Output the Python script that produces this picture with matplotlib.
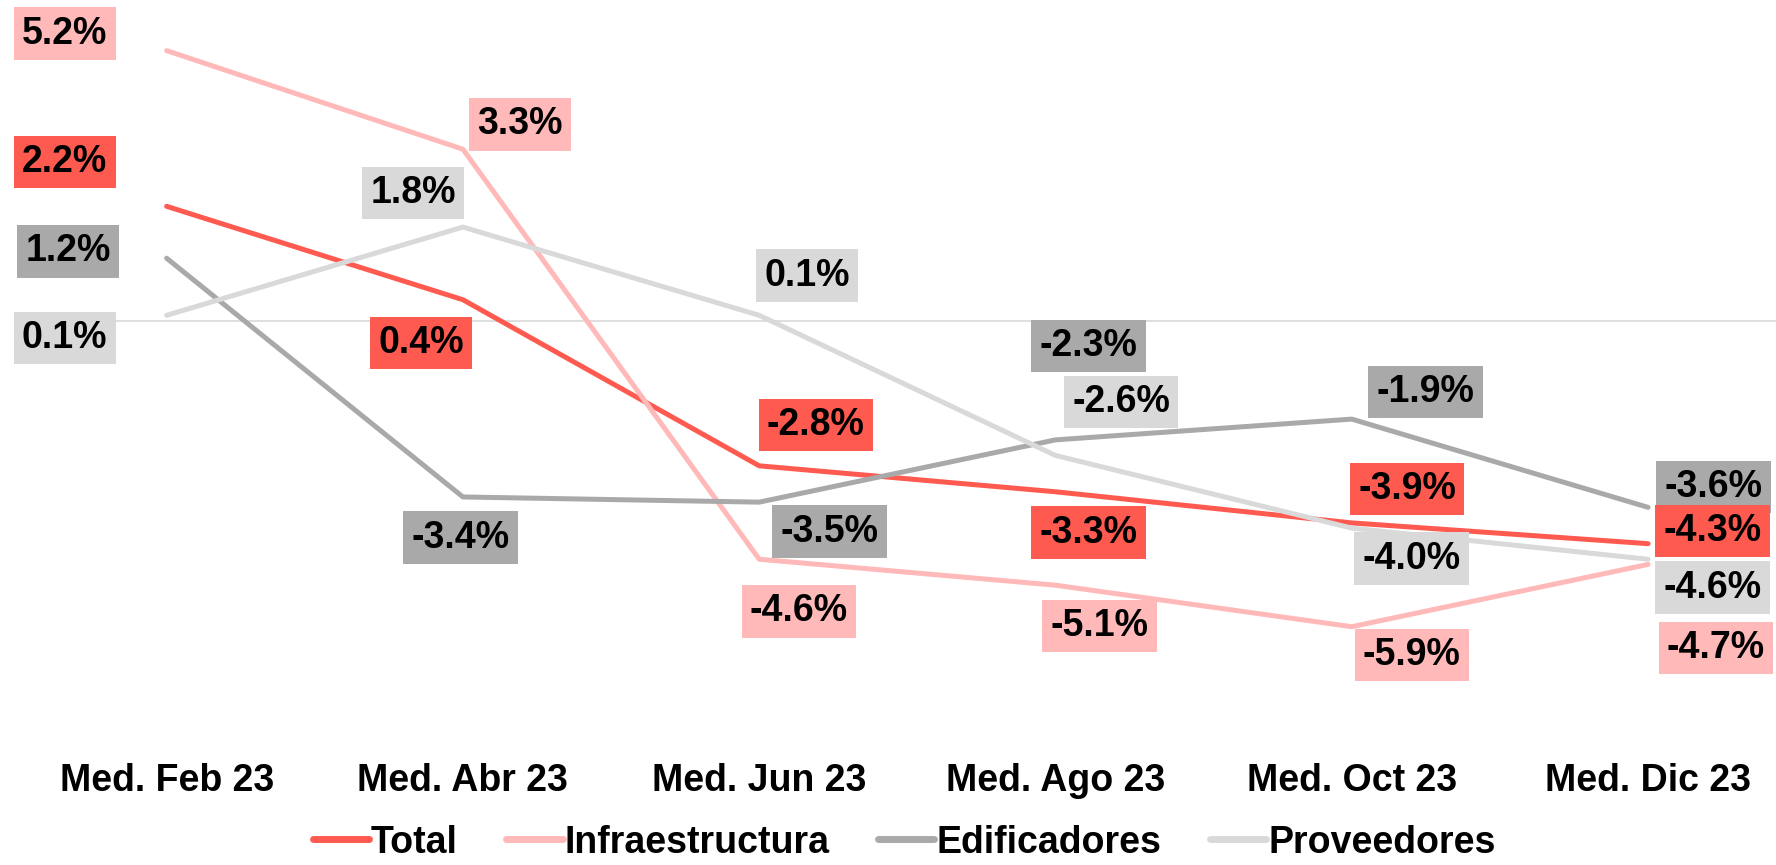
import matplotlib
matplotlib.use("Agg")
import matplotlib.pyplot as plt

categories = ["Med. Feb 23", "Med. Abr 23", "Med. Jun 23", "Med. Ago 23", "Med. Oct 23", "Med. Dic 23"]
total = [2.2, 0.4, -2.8, -3.3, -3.9, -4.3]
infraestructura = [5.2, 3.3, -4.6, -5.1, -5.9, -4.7]
edificadores = [1.2, -3.4, -3.5, -2.3, -1.9, -3.6]
proveedores = [0.1, 1.8, 0.1, -2.6, -4.0, -4.6]

series_names = ["Total", "Infraestructura", "Edificadores", "Proveedores"]
series_values = [total, infraestructura, edificadores, proveedores]
colors = ["#FF5A50", "#FFB9B9", "#A9A9A9", "#D9D9D9"]

# label offsets (pixels, at 1568-wide preview scale), x right, y down
offsets = [
    [(-90, -39), (-37, 38), (50, -36), (29, 36), (49, -30), (57, -11)],
    [(-90, -15), (50, -22), (35, 46), (39, 36), (53, 25), (60, 74)],
    [(-87, -6), (-2, 36), (62, 26), (29, -83), (65, -24), (58, -18)],
    [(-90, 20), (-44, -30), (42, -35), (58, -47), (53, 27), (57, 25)],
]
S = 1776 / 1568

plt.rcParams['font.family'] = ['Liberation Sans', 'DejaVu Sans']
W, H = 1776, 865
fig = plt.figure(figsize=(W / 100, H / 100), dpi=100)
left_px = 18.5
bottom_px = 745
ax = fig.add_axes([left_px / W, (H - bottom_px) / H, (W - left_px) / W, bottom_px / H])

spacing = 296.4
unit = 51.9
zero_px = 320.5
ax.set_xlim(-0.5, 5 + (W - 1648) / spacing)
ax.set_ylim(-(bottom_px - zero_px) / unit, zero_px / unit)

x = list(range(len(categories)))
ax.axhline(0, color="#D9D9D9", lw=1.2, zorder=1)

lines = []
for name, vals, c in zip(series_names, series_values, colors):
    ln, = ax.plot(x, vals, color=c, lw=3.6, solid_capstyle='round', solid_joinstyle='round', label=name, zorder=2)
    lines.append(ln)

label_order = [3, 2, 1, 0]
for si in label_order:
    vals = series_values[si]
    for i, v in enumerate(vals):
        dx, dy = offsets[si][i]
        ax.annotate(f"{v:.1f}%", (i, v), xytext=(dx * S, -dy * S), textcoords='offset pixels',
                    ha='center', va='center', fontsize=27, fontweight='bold', color='black',
                    bbox=dict(boxstyle='square,pad=0.22', fc=colors[si], ec='none'), zorder=5 + (3 - si))

ax.set_xticks(x)
ax.set_xticklabels(categories, fontsize=27, fontweight='bold')
ax.tick_params(axis='x', length=0, pad=13)
ax.set_yticks([])
for sp in ax.spines.values():
    sp.set_visible(False)

leg = fig.legend(lines, series_names, loc='center', bbox_to_anchor=(0.509, 0.026), ncol=4, frameon=False,
                 prop={'size': 27, 'weight': 'bold'}, handlelength=1.5, handletextpad=0.05, columnspacing=1.3,
                 borderpad=0.1)
for lh in leg.get_lines():
    lh.set_linewidth(5)
    lh.set_solid_capstyle('round')

fig.savefig("out.png", dpi=100)
